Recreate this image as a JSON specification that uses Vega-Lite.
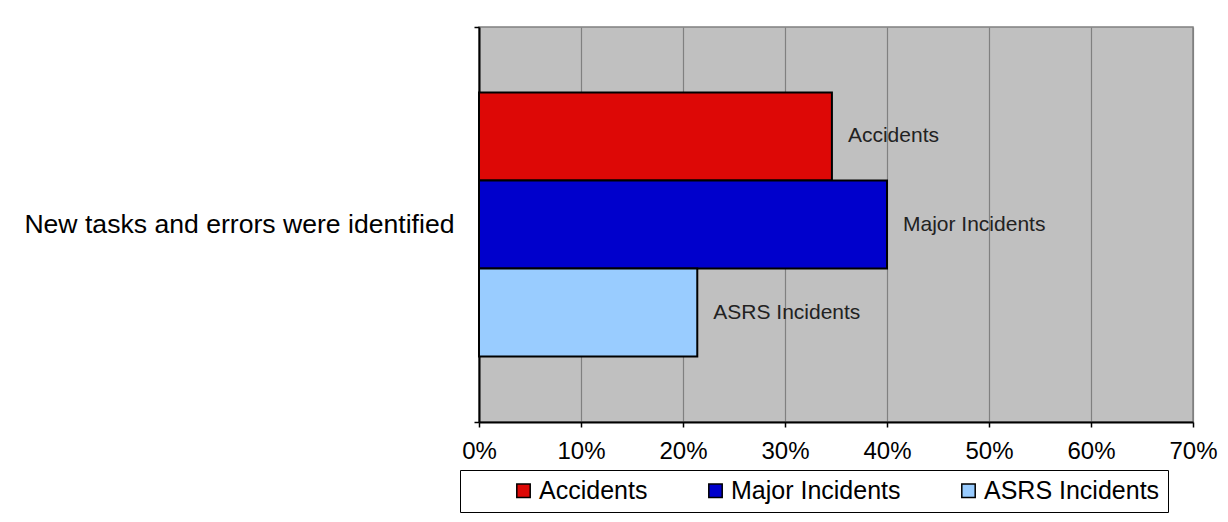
{
  "$schema": "https://vega.github.io/schema/vega-lite/v6.json",
  "width": 714,
  "height": 395,
  "autosize": {"type": "none"},
  "padding": {"left": 479, "top": 27, "right": 35, "bottom": 100},
  "background": "white",
  "config": {
    "font": "Liberation Sans",
    "view": {"fill": "#C0C0C0", "stroke": "#808080", "strokeWidth": 1.5}
  },
  "data": {
    "values": [
      {"question": "New tasks and errors were identified", "source": "Accidents", "share": 0.346},
      {"question": "New tasks and errors were identified", "source": "Major Incidents", "share": 0.40},
      {"question": "New tasks and errors were identified", "source": "ASRS Incidents", "share": 0.214}
    ]
  },
  "encoding": {
    "y": {
      "field": "question",
      "type": "nominal",
      "scale": {"paddingInner": 0, "paddingOuter": 0},
      "axis": {
        "title": null,
        "labelFontSize": 26.6,
        "labelColor": "#000",
        "labelPadding": 20,
        "labelLimit": 600,
        "tickBand": "extent",
        "tickSize": 5,
        "tickColor": "#000",
        "tickWidth": 1.5,
        "domainColor": "#000",
        "domainWidth": 2
      }
    },
    "yOffset": {
      "field": "source",
      "type": "nominal",
      "sort": ["Accidents", "Major Incidents", "ASRS Incidents"],
      "scale": {"paddingInner": 0, "paddingOuter": 0.744}
    },
    "x": {
      "field": "share",
      "type": "quantitative",
      "scale": {"domain": [0, 0.7], "nice": false},
      "axis": {
        "title": null,
        "format": ".0%",
        "values": [0, 0.1, 0.2, 0.3, 0.4, 0.5, 0.6, 0.7],
        "labelFontSize": 24,
        "labelColor": "#000",
        "labelPadding": 12,
        "labelFlush": false,
        "labelOverlap": false,
        "tickSize": 5,
        "tickColor": "#000",
        "tickWidth": 1.5,
        "domainColor": "#000",
        "domainWidth": 2,
        "gridColor": "#808080",
        "gridWidth": 1.2
      }
    }
  },
  "layer": [
    {
      "mark": {"type": "bar", "stroke": "#000", "strokeWidth": 2},
      "encoding": {
        "color": {
          "field": "source",
          "type": "nominal",
          "sort": ["Accidents", "Major Incidents", "ASRS Incidents"],
          "scale": {
            "domain": ["Accidents", "Major Incidents", "ASRS Incidents"],
            "range": ["#DD0806", "#0000CC", "#99CCFF"]
          },
          "legend": {
            "orient": "none",
            "legendX": -19,
            "legendY": 443,
            "direction": "horizontal",
            "title": null,
            "labelFontSize": 25,
            "labelColor": "#000",
            "labelOffset": 3,
            "labelLimit": 400,
            "symbolType": "square",
            "symbolSize": 180,
            "symbolStrokeColor": "#000",
            "symbolStrokeWidth": 1.5,
            "symbolOffset": 43,
            "columnPadding": 12,
            "padding": 8,
            "strokeColor": "#000",
            "fillColor": "#fff"
          }
        }
      }
    },
    {
      "mark": {"type": "text", "align": "left", "baseline": "middle", "dx": 16, "fontSize": 21, "color": "#222"},
      "encoding": {"text": {"field": "source", "type": "nominal"}}
    }
  ]
}
